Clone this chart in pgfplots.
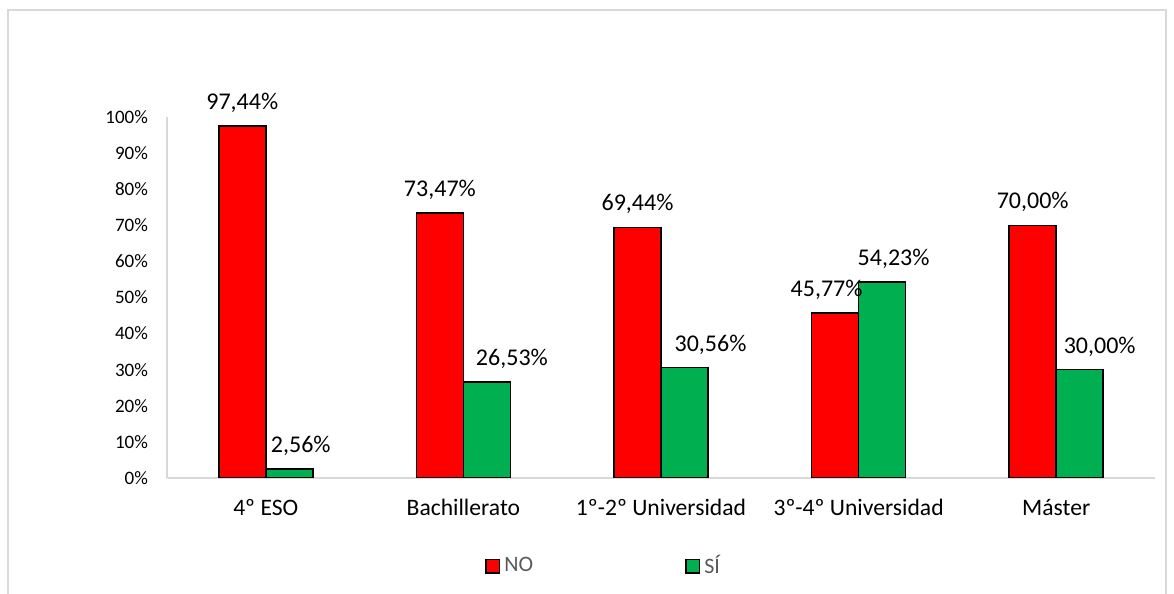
\documentclass[border=0pt]{standalone}
\usepackage{fontspec}
\setmainfont{Carlito}
\usepackage{pgfplots}
\usepackage{pgfplotstable}
\pgfplotsset{compat=1.18}
\definecolor{noRed}{HTML}{FF0000}
\definecolor{siGreen}{HTML}{00B050}
\definecolor{axisGray}{HTML}{D9D9D9}
\definecolor{frameGray}{HTML}{D9D9D9}
\definecolor{legGray}{HTML}{595959}

% x = category index, y = percentage, dx = label offset (pt)
\pgfplotstableread{
x y dx
0 97.44 0
1 73.47 0
2 69.44 0
3 45.77 -4.25
4 70.00 0
}\noData
\pgfplotstableread{
x y dx
0 2.56 5.75
1 26.53 12.5
2 30.56 13
3 54.23 5.75
4 30.00 10
}\siData

\begin{document}
\begin{tikzpicture}
\useasboundingbox (0,0) rectangle (587pt,297pt);
\draw[frameGray, line width=0.8pt] (4pt,-2pt) -- (4pt,292pt) -- (583pt,292pt) -- (583pt,-2pt);
\begin{axis}[
  at={(83.5pt,58pt)}, anchor=south west,
  scale only axis, width=494pt, height=180.5pt,
  /pgf/number format/assume math mode=true,
  ybar=0pt, bar width=23.5pt,
  xmin=-0.5, xmax=4.5, ymin=0, ymax=100,
  xtick={0,1,2,3,4},
  xticklabels={4º ESO, Bachillerato, 1º-2º Universidad, 3º-4º Universidad, Máster},
  ytick={0,10,...,100},
  yticklabel={\pgfmathprintnumber{\tick}\%},
  major tick length=0pt,
  axis line style={axisGray, line width=0.6pt},
  axis x line=bottom, axis y line=left,
  separate axis lines,
  x axis line style={-}, y axis line style={-},
  tick label style={black},
  yticklabel style={font=\fontsize{9.5}{11}\selectfont, xshift=-6pt},
  xticklabel style={font=\fontsize{11.8}{14}\selectfont, yshift=-7pt},
  visualization depends on={\thisrow{dx} \as \labeldx},
  nodes near coords={\pgfmathprintnumber[fixed,fixed zerofill,precision=2,use comma]{\pgfplotspointmeta}\%},
  every node near coord/.append style={font=\fontsize{12}{14}\selectfont, black, yshift=3pt, xshift=\labeldx pt},
  legend style={at={(0.443,-0.244)}, anchor=center, draw=none, fill=none,
    font=\fontsize{11}{13}\selectfont, text=legGray,
    /tikz/every even column/.append style={column sep=74pt},
    /tikz/every odd column/.append style={inner xsep=1pt}},
  legend columns=2,
  legend image code/.code={\draw[#1, line width=0.75pt] (0pt,-3.4pt) rectangle (6.8pt,3.4pt);},
]
\addplot[fill=noRed, draw=black, line width=0.75pt] table[x=x, y=y] {\noData};
\addplot[fill=siGreen, draw=black, line width=0.75pt] table[x=x, y=y] {\siData};
\legend{NO, SÍ}
\end{axis}
\end{tikzpicture}
\end{document}
